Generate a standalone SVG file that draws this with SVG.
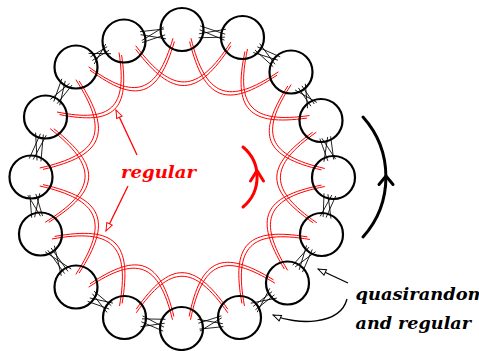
<svg xmlns="http://www.w3.org/2000/svg" xmlns:xlink="http://www.w3.org/1999/xlink" width="479" height="351" viewBox="0 0 479 351">
<style>
.node{fill:none;stroke:#000;stroke-width:2.2}
.red{fill:none;stroke:#f00;stroke-width:1}
.bun{fill:none;stroke:#000;stroke-width:0.8}
.lbl{font-family:"DejaVu Serif","Liberation Serif",serif;font-weight:bold;font-style:italic;font-size:17px}
.ann-r{fill:none;stroke:#f00;stroke-width:1.3}
.ann-k{fill:none;stroke:#000;stroke-width:1.3}
.big-r{fill:none;stroke:#f00;stroke-width:3;stroke-linecap:round;stroke-linejoin:round}
.big-k{fill:none;stroke:#000;stroke-width:3;stroke-linecap:round;stroke-linejoin:round}
</style>
<defs>
<marker id="ohr" viewBox="-10 -5 12 10" markerWidth="12" markerHeight="10" refX="0" refY="0" orient="auto" markerUnits="userSpaceOnUse"><path d="M0,0 L-8,-3 L-8,3 Z" fill="#fff" stroke="#f00" stroke-width="1"/></marker>
<marker id="ohk" viewBox="-10 -5 12 10" markerWidth="12" markerHeight="10" refX="0" refY="0" orient="auto" markerUnits="userSpaceOnUse"><path d="M0,0 L-8,-3 L-8,3 Z" fill="#fff" stroke="#000" stroke-width="1"/></marker>
<path id="r1" d="M190.3,39.9 C205.0,98.9 227.2,107.5 277.7,73.5"/>
<path id="r2" d="M246.2,50.3 C234.0,108.1 249.7,125.0 308.2,116.8"/>
<path id="r3" d="M289.5,85.3 C257.4,134.5 265.9,155.8 323.1,169.2"/>
<path id="r4" d="M314.5,132.2 C266.5,166.3 266.6,189.3 315.0,222.8"/>
<path id="r5" d="M323.1,185.8 C264.6,197.4 255.2,218.7 286.0,269.7"/>
<path id="r6" d="M308.7,238.2 C248.9,228.2 232.3,245.1 243.2,304.7"/>
<path id="r7" d="M274.2,281.5 C223.3,250.3 201.8,259.6 189.8,318.1"/>
<path id="r8" d="M227.8,311.0 C193.6,262.3 170.4,262.3 136.2,311.0"/>
<path id="r9" d="M173.2,318.1 C159.3,261.3 137.9,253.0 89.3,285.5"/>
<path id="r10" d="M120.8,304.7 C131.3,243.8 114.1,226.8 53.3,237.7"/>
<path id="r11" d="M77.5,273.7 C111.1,221.5 101.9,199.1 41.4,185.3"/>
<path id="r12" d="M47.0,222.3 C98.7,190.0 99.9,166.3 52.0,128.7"/>
<path id="r13" d="M41.4,168.7 C101.9,154.9 111.1,132.5 77.5,80.3"/>
<path id="r14" d="M58.3,113.3 C113.1,124.1 128.8,109.0 120.3,53.8"/>
<path id="r15" d="M89.3,68.5 C136.0,102.7 157.4,95.5 173.7,39.9"/>
<path id="r16" d="M135.7,47.5 C173.0,96.8 197.2,95.9 230.8,44.0"/>
</defs>
<rect width="479" height="351" fill="#fff"/>
<g id="connectors">
<g class="red">
<use xlink:href="#r1" transform="translate(-0.69,1.66)"/><use xlink:href="#r1" transform="translate(0.69,-1.66)"/>
<use xlink:href="#r2" transform="translate(-1.27,1.27)"/><use xlink:href="#r2" transform="translate(1.27,-1.27)"/>
<use xlink:href="#r3" transform="translate(-1.66,0.69)"/><use xlink:href="#r3" transform="translate(1.66,-0.69)"/>
<use xlink:href="#r4" transform="translate(-1.8,0)"/><use xlink:href="#r4" transform="translate(1.8,0)"/>
<use xlink:href="#r5" transform="translate(-1.66,-0.69)"/><use xlink:href="#r5" transform="translate(1.66,0.69)"/>
<use xlink:href="#r6" transform="translate(-1.27,-1.27)"/><use xlink:href="#r6" transform="translate(1.27,1.27)"/>
<use xlink:href="#r7" transform="translate(-0.69,-1.66)"/><use xlink:href="#r7" transform="translate(0.69,1.66)"/>
<use xlink:href="#r8" transform="translate(0,-1.8)"/><use xlink:href="#r8" transform="translate(0,1.8)"/>
<use xlink:href="#r9" transform="translate(0.69,-1.66)"/><use xlink:href="#r9" transform="translate(-0.69,1.66)"/>
<use xlink:href="#r10" transform="translate(1.27,-1.27)"/><use xlink:href="#r10" transform="translate(-1.27,1.27)"/>
<use xlink:href="#r11" transform="translate(1.66,-0.69)"/><use xlink:href="#r11" transform="translate(-1.66,0.69)"/>
<use xlink:href="#r12" transform="translate(1.8,0)"/><use xlink:href="#r12" transform="translate(-1.8,0)"/>
<use xlink:href="#r13" transform="translate(1.66,0.69)"/><use xlink:href="#r13" transform="translate(-1.66,-0.69)"/>
<use xlink:href="#r14" transform="translate(1.27,1.27)"/><use xlink:href="#r14" transform="translate(-1.27,-1.27)"/>
<use xlink:href="#r15" transform="translate(0.69,1.66)"/><use xlink:href="#r15" transform="translate(-0.69,-1.66)"/>
<use xlink:href="#r16" transform="translate(0,1.8)"/><use xlink:href="#r16" transform="translate(0,-1.8)"/>
</g>
<g class="bun">
<path transform="translate(182,29.5) rotate(7.53)" d="M17.5,-6 L43.5,-1 M17.5,-2 L43.5,5 M17.5,2 L43.5,-6 M17.5,6 L43.5,2"/>
<path transform="translate(242.5,37.5) rotate(35.4)" d="M17.5,-5 L42,3 M17.5,-1 L42,-6 M17.5,3 L42,6 M17.5,6 L42,-2"/>
<path transform="translate(291,72) rotate(58.3)" d="M17.5,-6 L39.5,5 M17.5,-2 L39.5,-3 M17.5,2 L39.5,1 M17.5,6 L39.5,-6"/>
<path transform="translate(321,120.5) rotate(77.6)" d="M17.5,-6 L40.9,-4 M17.5,-3 L40.9,6 M17.5,3 L40.9,-6 M17.5,5 L40.9,2"/>
<path transform="translate(333.5,177.5) rotate(101.9)" d="M17.5,-6 L40.7,-1 M17.5,-2 L40.7,5 M17.5,2 L40.7,-6 M17.5,6 L40.7,2"/>
<path transform="translate(321.5,234.5) rotate(125)" d="M17.5,-5 L41.7,3 M17.5,-1 L41.7,-6 M17.5,3 L41.7,6 M17.5,6 L41.7,-2"/>
<path transform="translate(287.5,283) rotate(144.3)" d="M17.5,-6 L41.6,5 M17.5,-2 L41.6,-3 M17.5,2 L41.6,1 M17.5,6 L41.6,-6"/>
<path transform="translate(239.5,317.5) rotate(169.3)" d="M17.5,-6 L41.5,-4 M17.5,-3 L41.5,6 M17.5,3 L41.5,-6 M17.5,5 L41.5,2"/>
<path transform="translate(181.5,328.5) rotate(190.9)" d="M17.5,-6 L40.6,-1 M17.5,-2 L40.6,5 M17.5,2 L40.6,-6 M17.5,6 L40.6,2"/>
<path transform="translate(124.5,317.5) rotate(212.2)" d="M17.5,-5 L39.8,3 M17.5,-1 L39.8,-6 M17.5,3 L39.8,6 M17.5,6 L39.8,-2"/>
<path transform="translate(76,287) rotate(236.2)" d="M17.5,-6 L46.3,5 M17.5,-2 L46.3,-3 M17.5,2 L46.3,1 M17.5,6 L46.3,-6"/>
<path transform="translate(40.5,234) rotate(260.5)" d="M17.5,-6 L40.3,-4 M17.5,-3 L40.3,6 M17.5,3 L40.3,-6 M17.5,5 L40.3,2"/>
<path transform="translate(31,177) rotate(283.6)" d="M17.5,-6 L44.2,-1 M17.5,-2 L44.2,5 M17.5,2 L44.2,-6 M17.5,6 L44.2,2"/>
<path transform="translate(45.5,117) rotate(301.4)" d="M17.5,-5 L41.1,3 M17.5,-1 L41.1,-6 M17.5,3 L41.1,6 M17.5,6 L41.1,-2"/>
<path transform="translate(76,67) rotate(331.6)" d="M17.5,-6 L37.1,5 M17.5,-2 L37.1,-3 M17.5,2 L37.1,1 M17.5,6 L37.1,-6"/>
<path transform="translate(124,41) rotate(348.8)" d="M17.5,-6 L41.6,-4 M17.5,-3 L41.6,6 M17.5,3 L41.6,-6 M17.5,5 L41.6,2"/>
</g>
</g>
<g id="n1"><circle class="node" cx="182" cy="29.5" r="21.5"/></g>
<g id="n2"><circle class="node" cx="242.5" cy="37.5" r="21.5"/></g>
<g id="n3"><circle class="node" cx="291" cy="72" r="21.5"/></g>
<g id="n4"><circle class="node" cx="321" cy="120.5" r="21.5"/></g>
<g id="n5"><circle class="node" cx="333.5" cy="177.5" r="21.5"/></g>
<g id="n6"><circle class="node" cx="321.5" cy="234.5" r="21.5"/></g>
<g id="n7"><circle class="node" cx="287.5" cy="283" r="21.5"/></g>
<g id="n8"><circle class="node" cx="239.5" cy="317.5" r="21.5"/></g>
<g id="n9"><circle class="node" cx="181.5" cy="328.5" r="21.5"/></g>
<g id="n10"><circle class="node" cx="124.5" cy="317.5" r="21.5"/></g>
<g id="n11"><circle class="node" cx="76" cy="287" r="21.5"/></g>
<g id="n12"><circle class="node" cx="40.5" cy="234" r="21.5"/></g>
<g id="n13"><circle class="node" cx="31" cy="177" r="21.5"/></g>
<g id="n14"><circle class="node" cx="45.5" cy="117" r="21.5"/></g>
<g id="n15"><circle class="node" cx="76" cy="67" r="21.5"/></g>
<g id="n16"><circle class="node" cx="124" cy="41" r="21.5"/></g>
<g id="annotations">
<path class="ann-r" d="M137,155 L116,110" marker-end="url(#ohr)"/>
<path class="ann-r" d="M128,186 L106,231" marker-end="url(#ohr)"/>
<text class="lbl" x="121" y="177.5" fill="#f00" textLength="75" lengthAdjust="spacingAndGlyphs">regular</text>
<path class="big-r" d="M243,147 A39,39 0 0 1 243,207"/>
<path class="big-r" d="M250.5,181 L257,170.5 L263.5,181"/>
<path class="big-k" d="M363,117 A90,90 0 0 1 363,237"/>
<path class="big-k" d="M379,184.5 L386,176 L393,184.5"/>
<path class="ann-k" d="M348,283 L318,269" marker-end="url(#ohk)"/>
<path class="ann-k" d="M347,299 C340,326 296,325 273,315" marker-end="url(#ohk)"/>
<text class="lbl" x="355.5" y="299.5" fill="#000" textLength="131" lengthAdjust="spacingAndGlyphs">quasirandom</text>
<text class="lbl" x="355.5" y="328.5" fill="#000" textLength="115.5" lengthAdjust="spacingAndGlyphs">and regular</text>
</g>
</svg>
